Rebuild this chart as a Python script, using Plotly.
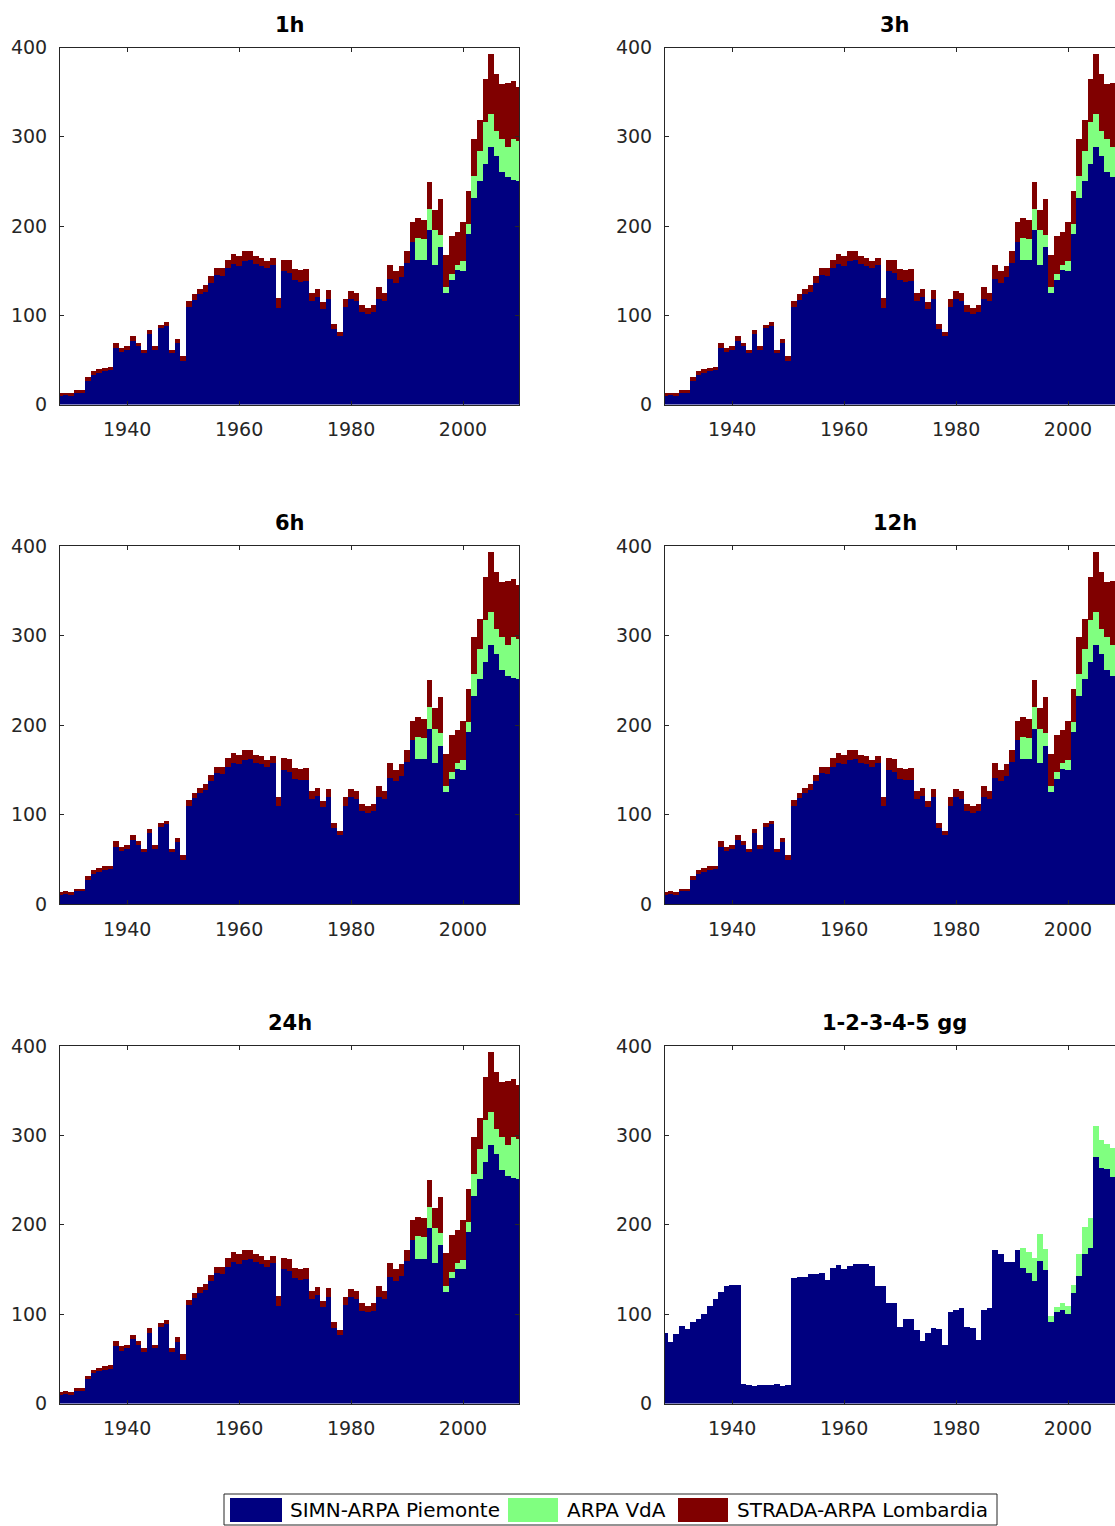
import plotly.graph_objects as go

# ---------------- data ----------------
years = list(range(1928, 2011))

# durations 1h / 3h / 6h / 12h / 24h (same station counts per year)
piemonte = [10, 11, 10, 14, 14, 27, 34, 36, 38, 39,
            64, 59, 62, 72, 66, 58, 79, 62, 86, 89,
            58, 69, 49, 110, 118, 124, 127, 137, 146, 145,
            153, 158, 156, 161, 162, 158, 156, 153, 157, 109,
            150, 148, 140, 138, 139, 117, 121, 108, 119, 85,
            77, 110, 119, 117, 104, 102, 104, 119, 117, 141,
            137, 143, 159, 183, 162, 162, 196, 157, 177, 125,
            140, 151, 150, 192, 232, 251, 270, 289, 279, 261,
            255, 252, 251]
vda = [0] * 64 + [25, 24, 24, 39, 14, 7, 7, 6, 11, 11,
                  25, 34, 47, 37, 28, 37, 34, 46, 45]
lombardia = [3, 3, 3, 3, 3, 4, 4, 4, 4, 4,
             6, 5, 4, 5, 4, 4, 5, 4, 4, 4,
             4, 5, 6, 6, 6, 6, 7, 7, 7, 8,
             10, 11, 11, 11, 10, 9, 9, 8, 8, 11,
             13, 14, 12, 13, 13, 9, 9, 7, 10, 6,
             5, 9, 9, 9, 8, 7, 8, 13, 9, 16,
             13, 13, 13, 22, 22, 21, 30, 23, 40, 36,
             42, 37, 44, 37, 41, 34, 48, 67, 64, 62,
             72, 65, 60]

# 1-2-3-4-5 days (visible part of the panel, up to 2008)
years_gg = list(range(1928, 2009))
piemonte_gg = [79, 69, 78, 87, 83, 91, 94, 100, 109, 117,
               125, 132, 133, 133, 22, 21, 20, 21, 21, 21,
               22, 20, 21, 140, 141, 142, 145, 145, 146, 138,
               152, 155, 150, 154, 156, 156, 156, 154, 131, 131,
               113, 113, 86, 94, 94, 82, 70, 79, 84, 83,
               65, 102, 105, 107, 86, 84, 71, 105, 107, 172,
               167, 158, 158, 172, 152, 146, 137, 160, 149, 91,
               102, 105, 100, 124, 143, 167, 174, 276, 263, 262,
               253]
vda_gg = [0] * 64 + [22, 24, 26, 30, 24, 7, 6, 8, 9, 9,
                     24, 31, 34, 35, 32, 28, 33]
lombardia_gg = [0] * len(years_gg)

titles = ["1h", "3h", "6h", "12h", "24h", "1-2-3-4-5 gg"]
series_names = ["SIMN-ARPA Piemonte", "ARPA VdA", "STRADA-ARPA Lombardia"]
x_ticks = [1940, 1960, 1980, 2000]
y_ticks = [0, 100, 200, 300, 400]

# ---------------- styling / layout ----------------
W, H = 1115, 1526
COLORS = ["#000080", "#80ff80", "#800000"]
FONT = "DejaVu Sans"
AX = "#262626"

col_px = [(60, 519), (665, 1115)]
row_px = [(47.5, 404.5), (546, 904), (1046, 1403.5)]
px_per_year = (519 - 60) / 82.0
x_right_end = 1928 + (1115 - 665) / px_per_year

panel_data = [(years, piemonte, vda, lombardia)] * 5 + \
             [(years_gg, piemonte_gg, vda_gg, lombardia_gg)]

fig = go.Figure()
layout = {}
for i, title in enumerate(titles):
    r, c = divmod(i, 2)
    k = "" if i == 0 else str(i + 1)
    xs, p, v, l = panel_data[i]
    for name, vals, col in zip(series_names, (p, v, l), COLORS):
        fig.add_trace(go.Bar(x=xs, y=vals, name=name, width=1.0,
                             marker=dict(color=col, line=dict(width=0)),
                             xaxis="x" + k, yaxis="y" + k, showlegend=False,
                             hoverinfo="x+y+name"))
    x0, x1 = col_px[c]
    yt, yb = row_px[r]
    xr = [1928, 2010] if c == 0 else [1928, x_right_end]
    layout["xaxis" + k] = dict(
        domain=[x0 / W, x1 / W], range=xr, anchor="y" + k, automargin=False,
        tickvals=x_ticks, ticks="inside", ticklen=4, tickcolor=AX,
        showline=True, linecolor=AX, linewidth=1, mirror="ticks",
        showgrid=False, zeroline=False, ticklabelstandoff=8,
        tickfont=dict(family=FONT, size=19, color=AX), fixedrange=True)
    layout["yaxis" + k] = dict(
        domain=[1 - yb / H, 1 - yt / H], range=[0, 400], anchor="x" + k,
        automargin=False,
        tickvals=y_ticks, ticks="inside", ticklen=4, tickcolor=AX,
        showline=True, linecolor=AX, linewidth=1,
        mirror="ticks" if c == 0 else False,
        showgrid=False, zeroline=False, ticklabelstandoff=8,
        tickfont=dict(family=FONT, size=19, color=AX), fixedrange=True)

annotations = []
title_y = [25, 523, 1023]
title_x = [289.5, 894.5]
for i, title in enumerate(titles):
    r, c = divmod(i, 2)
    annotations.append(dict(
        text="<b>%s</b>" % title, xref="paper", yref="paper",
        x=title_x[c] / W, y=1 - title_y[r] / H, xanchor="center", yanchor="middle",
        showarrow=False, font=dict(family=FONT, size=21, color="#000000")))

# legend (drawn as boxes + text)
shapes = [dict(type="rect", xref="paper", yref="paper",
               x0=224 / W, x1=997 / W, y0=1 - 1525 / H, y1=1 - 1494 / H,
               line=dict(color=AX, width=1), fillcolor="white", layer="above")]
leg_sw = [(230, 282), (508, 558), (678, 728)]
leg_tx = [288, 565, 735]
for (sx0, sx1), tx, col, name in zip(leg_sw, leg_tx, COLORS, series_names):
    shapes.append(dict(type="rect", xref="paper", yref="paper",
                       x0=sx0 / W, x1=sx1 / W, y0=1 - 1522 / H, y1=1 - 1498 / H,
                       line=dict(width=0), fillcolor=col, layer="above"))
    annotations.append(dict(text=name, xref="paper", yref="paper",
                            x=tx / W, y=1 - 1510 / H, xanchor="left", yanchor="middle",
                            showarrow=False,
                            font=dict(family=FONT, size=20, color="#000000")))

fig.update_layout(
    template="none",
    width=W, height=H, margin=dict(l=0, r=0, t=0, b=0, pad=0, autoexpand=False),
    paper_bgcolor="white", plot_bgcolor="white",
    barmode="stack", bargap=0, bargroupgap=0,
    annotations=annotations, shapes=shapes, showlegend=False,
    font=dict(family=FONT), **layout)

fig.write_html("out.html", config={"displayModeBar": False})
